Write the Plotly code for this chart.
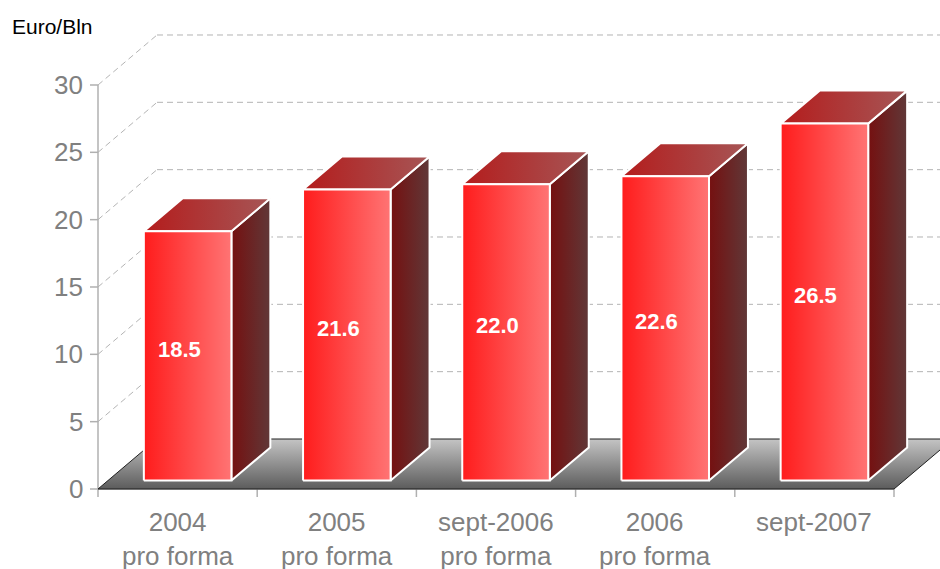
import plotly.graph_objects as go

# data
categories = ["2004<br>pro forma", "2005<br>pro forma", "sept-2006<br>pro forma",
              "2006<br>pro forma", "sept-2007"]
values = [18.5, 21.6, 22.0, 22.6, 26.5]
value_labels = ["18.5", "21.6", "22.0", "22.6", "26.5"]
y_ticks = [0, 5, 10, 15, 20, 25, 30]
unit_label = "Euro/Bln"

# pixel geometry of the fake 3d box
W, H = 940, 569
PLOT_L, PLOT_R, PLOT_T, PLOT_B = 88, 940, 20, 498
ORIGIN_X, ORIGIN_Y = 98, 489
CAT_PX = 159.2      # px per category
UNIT_PX = 13.467    # px per value unit
DX = 59 / CAT_PX    # depth in x units
DY = 50 / UNIT_PX   # depth in y units
F0, F1 = 0.17, 0.83 # bar front / back inside the depth
BAR_W = 0.55

x_range = [(PLOT_L - ORIGIN_X) / CAT_PX, (PLOT_R - ORIGIN_X) / CAT_PX]
y_range = [(ORIGIN_Y - PLOT_B) / UNIT_PX, (ORIGIN_Y - PLOT_T) / UNIT_PX]
n = len(categories)

GRAY = "#808080"
FONT = "Arial, Liberation Sans, sans-serif"

fig = go.Figure()


def face(xs, ys, c0, c1, kind="horizontal", line_color="white", line_w=2):
    fig.add_trace(go.Scatter(
        x=xs, y=ys, mode="lines", fill="toself",
        fillgradient=dict(type=kind, colorscale=[[0, c0], [1, c1]]),
        line=dict(color=line_color, width=line_w),
        hoverinfo="skip", showlegend=False))


# floor
face([0, n, n + DX, DX, 0], [0, 0, DY, DY, 0],
     "#5c5c5c", "#c4c4c4", kind="vertical", line_color="#202020", line_w=1)

# bars
ddx = (F1 - F0) * DX
ddy = (F1 - F0) * DY
for i, v in enumerate(values):
    cx = i + 0.5 + F0 * DX
    xl, xr = cx - BAR_W / 2, cx + BAR_W / 2
    yb, yt = F0 * DY, v + F0 * DY
    face([xr, xr + ddx, xr + ddx, xr, xr], [yb, yb + ddy, yt + ddy, yt, yb],
         "#751010", "#603838")
    face([xl, xr, xr + ddx, xl + ddx, xl], [yt, yt, yt + ddy, yt + ddy, yt],
         "#b41c1c", "#a65656")
    face([xl, xr, xr, xl, xl], [yb, yb, yt, yt, yb], "#ff1c1c", "#ff7474")

shapes = []
# dashed grid on back and left walls
for v in y_ticks[1:]:
    grid = dict(type="line", layer="below", line=dict(color="#b4b4b4", width=1, dash="6px,4px"))
    shapes.append(dict(grid, x0=DX, y0=v + DY, x1=x_range[1] + 1, y1=v + DY))
    shapes.append(dict(grid, x0=0, y0=v, x1=DX, y1=v + DY))

axis_line = dict(color="#b0b0b0", width=1.5)
shapes.append(dict(type="line", layer="below", x0=0, y0=0, x1=0, y1=y_ticks[-1], line=axis_line))
shapes.append(dict(type="line", layer="below", x0=0, y0=0, x1=n, y1=0, line=axis_line))
for v in y_ticks:
    shapes.append(dict(type="line", layer="below", xsizemode="pixel", xanchor=0,
                       x0=-8, x1=0, y0=v, y1=v, line=axis_line))
for k in range(n + 1):
    shapes.append(dict(type="line", layer="below", ysizemode="pixel", yanchor=0,
                       y0=-8, y1=0, x0=k, x1=k, line=axis_line))

annotations = []
for v in y_ticks:
    annotations.append(dict(x=0, y=v, text=str(v), showarrow=False, xanchor="right",
                            xshift=-13, font=dict(family=FONT, size=26, color=GRAY)))
for i, c in enumerate(categories):
    annotations.append(dict(x=i + 0.5, y=0, text=c, showarrow=False, yanchor="top",
                            yshift=-16, font=dict(family=FONT, size=26, color=GRAY)))
for i, (v, t) in enumerate(zip(values, value_labels)):
    annotations.append(dict(x=i + 0.51, y=v / 2 + F0 * DY + 0.5, text="<b>%s</b>" % t,
                            showarrow=False, font=dict(family=FONT, size=22, color="white")))
annotations.append(dict(xref="paper", yref="paper",
                        x=(10 - PLOT_L) / (PLOT_R - PLOT_L),
                        y=(PLOT_B - 27) / (PLOT_B - PLOT_T),
                        xanchor="left", yanchor="middle", text=unit_label, showarrow=False,
                        font=dict(family=FONT, size=21, color="black")))

fig.update_layout(
    width=W, height=H,
    margin=dict(l=PLOT_L, r=W - PLOT_R, t=PLOT_T, b=H - PLOT_B, pad=0),
    paper_bgcolor="white", plot_bgcolor="white",
    xaxis=dict(range=x_range, visible=False, fixedrange=True),
    yaxis=dict(range=y_range, visible=False, fixedrange=True),
    shapes=shapes, annotations=annotations, showlegend=False,
)

fig.write_html("out.html", config={"displayModeBar": False},
               post_script="document.body.style.margin='0';")
